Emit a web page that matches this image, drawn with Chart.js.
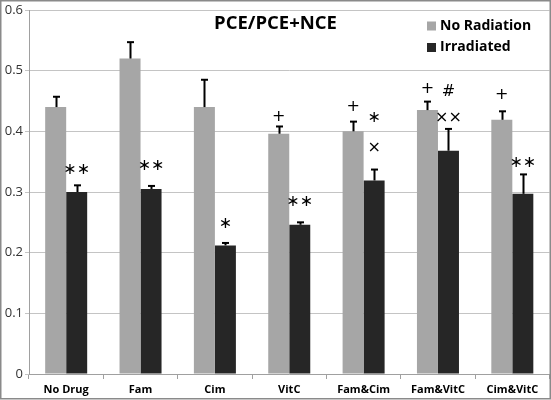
<!DOCTYPE html>
<html>
<head>
<meta charset="utf-8">
<script src="https://cdn.jsdelivr.net/npm/chart.js@4/dist/chart.umd.min.js"></script>
<style>
html,body{margin:0;padding:0;background:#fff;}
#wrap{width:551px;height:400px;position:relative;}
</style>
</head>
<body>
<div id="wrap"><canvas id="c" width="551" height="400"></canvas></div>
<script>
// ---- data ----
const categories = ['No Drug', 'Fam', 'Cim', 'VitC', 'Fam&Cim', 'Fam&VitC', 'Cim&VitC'];
const seriesNames = ['No Radiation', 'Irradiated'];
const noRadiation = [0.44, 0.52, 0.44, 0.396, 0.40, 0.435, 0.419];
const noRadiationErr = [0.017, 0.027, 0.045, 0.012, 0.016, 0.014, 0.014];
const irradiated = [0.30, 0.305, 0.212, 0.246, 0.319, 0.368, 0.297];
const irradiatedErr = [0.011, 0.005, 0.004, 0.004, 0.018, 0.036, 0.032];
const yTicks = [0, 0.1, 0.2, 0.3, 0.4, 0.5, 0.6];
const titleText = 'PCE/PCE+NCE';
// significance marks per category (lists, bottom to top)
const noRadiationMarks = [[], [], [], ['+'], ['+'], ['+'], ['+']];
const irradiatedMarks = [['∗∗'], ['∗∗'], ['∗'], ['∗∗'], ['×', '∗'], ['××', '#'], ['∗∗']];

// ---- styles ----
const colors = ['#a6a6a6', '#262626'];
const markLift = {            // px above error-bar top (per series, per category, per mark)
  0: [[], [], [], [10], [15], [13], [16]],
  1: [[15], [20], [19], [20], [22, 52], [11, 37], [12]]
};

const overlay = {
  id: 'overlay',
  afterDatasetsDraw(chart) {
    const ctx = chart.ctx;
    const y = chart.scales.y;
    const errs = [noRadiationErr, irradiatedErr];
    const vals = [noRadiation, irradiated];
    const marks = [noRadiationMarks, irradiatedMarks];
    ctx.save();
    for (let d = 0; d < 2; d++) {
      const meta = chart.getDatasetMeta(d);
      meta.data.forEach((bar, i) => {
        const top = y.getPixelForValue(vals[d][i] + errs[d][i]);
        const x = Math.round(bar.x) + 0.5;
        ctx.strokeStyle = '#000';
        ctx.lineWidth = 2;
        ctx.beginPath();
        ctx.moveTo(x, bar.y);
        ctx.lineTo(x, top);
        ctx.stroke();
        ctx.beginPath();
        ctx.moveTo(x - 3.5, top);
        ctx.lineTo(x + 3.5, top);
        ctx.stroke();
        ctx.fillStyle = '#000';
        ctx.font = '16px "DejaVu Sans"';
        ctx.textAlign = 'center';
        ctx.textBaseline = 'middle';
        marks[d][i].forEach((m, k) => {
          ctx.fillText(m, bar.x, top - markLift[d][i][k]);
        });
      });
    }
    ctx.restore();
  },
  afterDraw(chart) {
    const ctx = chart.ctx;
    ctx.save();
    // title
    ctx.fillStyle = '#000';
    ctx.font = 'bold 18.5px "Open Sans"';
    ctx.textAlign = 'center';
    ctx.textBaseline = 'middle';
    ctx.fillText(titleText, 275.5, 24);
    // legend
    ctx.font = 'bold 14px "Open Sans"';
    ctx.textAlign = 'left';
    seriesNames.forEach((n, i) => {
      const cy = 26 + i * 21.5;
      ctx.fillStyle = colors[i];
      ctx.fillRect(427, cy - 4.5, 9, 9);
      ctx.fillStyle = '#000';
      ctx.fillText(n, 440, cy);
    });
    // frame
    ctx.strokeStyle = '#8a8a8a';
    ctx.lineWidth = 1.5;
    ctx.strokeRect(0.75, 0.75, 549.5, 398);
    ctx.restore();
  }
};

new Chart(document.getElementById('c'), {
  type: 'bar',
  data: {
    labels: categories,
    datasets: [
      { label: seriesNames[0], data: noRadiation, backgroundColor: colors[0] },
      { label: seriesNames[1], data: irradiated, backgroundColor: colors[1] }
    ]
  },
  options: {
    responsive: false,
    animation: false,
    devicePixelRatio: 1,
    categoryPercentage: 0.565,
    barPercentage: 1.0,
    layout: { padding: { top: 10, right: 1.5, left: 0, bottom: 0 } },
    plugins: { legend: { display: false }, title: { display: false }, tooltip: { enabled: false } },
    scales: {
      x: {
        grid: { offset: true, drawOnChartArea: false, tickLength: 5, color: '#a0a0a0' },
        border: { color: '#a0a0a0' },
        ticks: { color: '#000', font: { family: 'Open Sans', weight: 'bold', size: 11 }, padding: 4, maxRotation: 0 },
        afterFit(s) { s.height = 26; }
      },
      y: {
        min: 0, max: 0.6,
        afterBuildTicks(s) { s.ticks = yTicks.map(v => ({ value: v })); },
        grid: { color: '#c4c4c4', tickLength: 4 },
        border: { color: '#a0a0a0' },
        ticks: { color: '#333', font: { family: 'Open Sans', size: 13 }, padding: 2, callback: v => String(Math.round(v * 10) / 10) },
        afterFit(s) { s.width = 29; }
      }
    }
  },
  plugins: [overlay]
});
</script>
</body>
</html>
